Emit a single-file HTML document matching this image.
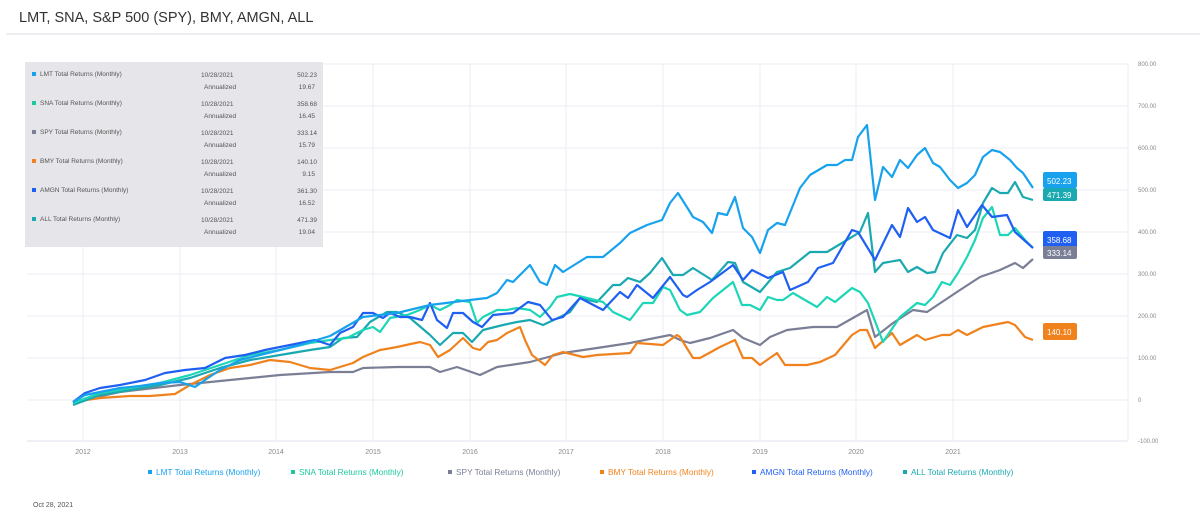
<!DOCTYPE html>
<html><head><meta charset="utf-8"><style>
body{margin:0;background:#fff;width:1200px;height:517px;overflow:hidden;font-family:"Liberation Sans",sans-serif}
</style></head><body>
<svg width="1200" height="517" xmlns="http://www.w3.org/2000/svg" font-family="Liberation Sans, sans-serif">
<text x="19" y="22" font-size="14.5" fill="#333">LMT, SNA, S&amp;P 500 (SPY), BMY, AMGN, ALL</text>
<line x1="6" y1="34" x2="1200" y2="34" stroke="#e8e9ee" stroke-width="1.5"/>
<g stroke="#eceef4" stroke-width="1">
<line x1="27" y1="64" x2="1128" y2="64"/><line x1="27" y1="106" x2="1128" y2="106"/><line x1="27" y1="148" x2="1128" y2="148"/><line x1="27" y1="190" x2="1128" y2="190"/><line x1="27" y1="232" x2="1128" y2="232"/><line x1="27" y1="274" x2="1128" y2="274"/><line x1="27" y1="316" x2="1128" y2="316"/><line x1="27" y1="358" x2="1128" y2="358"/><line x1="27" y1="400" x2="1128" y2="400"/><line x1="27" y1="441" x2="1128" y2="441" stroke="#dfe2ee"/>
<line x1="83" y1="64" x2="83" y2="441"/><line x1="180" y1="64" x2="180" y2="441"/><line x1="276" y1="64" x2="276" y2="441"/><line x1="373" y1="64" x2="373" y2="441"/><line x1="470" y1="64" x2="470" y2="441"/><line x1="566" y1="64" x2="566" y2="441"/><line x1="663" y1="64" x2="663" y2="441"/><line x1="760" y1="64" x2="760" y2="441"/><line x1="856" y1="64" x2="856" y2="441"/><line x1="953" y1="64" x2="953" y2="441"/><line x1="1128" y1="64" x2="1128" y2="441"/>
</g>
<g font-size="6" fill="#888">
<text x="1138" y="66">800.00</text><text x="1138" y="108">700.00</text><text x="1138" y="150">600.00</text><text x="1138" y="192">500.00</text><text x="1138" y="234">400.00</text><text x="1138" y="276">300.00</text><text x="1138" y="318">200.00</text><text x="1138" y="360">100.00</text><text x="1138" y="402">0</text><text x="1138" y="443">-100.00</text>
</g>
<g font-size="7" fill="#888" text-anchor="middle">
<text x="83" y="454">2012</text><text x="180" y="454">2013</text><text x="276" y="454">2014</text><text x="373" y="454">2015</text><text x="470" y="454">2016</text><text x="566" y="454">2017</text><text x="663" y="454">2018</text><text x="760" y="454">2019</text><text x="856" y="454">2020</text><text x="953" y="454">2021</text>
</g>
<g fill="none" stroke-width="2.2" stroke-linejoin="round">
<polyline stroke="#7a7f96" points="73,402 120,392 180,385 230,380 280,375 330,372 353,372 363,368 397,367 430,367 440,372 457,367 480,375 497,367 530,362 563,353 597,348 630,343 670,335 680,340 690,343 710,338 733,330 743,338 760,345 770,337 787,330 813,327 837,327 867,310 875,337 893,323 913,310 927,312 960,290 980,277 1000,270 1015,263 1023,268 1033,259"/>
<polyline stroke="#f0821e" points="73,402 100,398 130,396 150,396 175,394 190,385 210,375 230,368 250,365 270,360 290,362 310,368 330,370 353,363 363,357 380,350 397,347 420,342 430,345 438,357 450,350 463,338 473,348 480,350 488,342 497,340 507,333 520,327 525,340 532,355 545,365 553,355 563,352 583,357 597,355 630,353 637,343 663,345 677,335 680,337 693,358 700,358 720,347 735,340 743,358 752,358 760,365 777,353 785,365 807,365 820,362 835,355 852,335 860,330 867,330 875,348 892,333 900,345 917,335 925,340 942,335 950,335 958,330 967,335 983,327 1008,322 1015,325 1025,337 1033,340"/>
<polyline stroke="#1aa9b0" points="73,405 100,395 130,390 160,385 190,378 220,368 250,360 280,355 310,350 330,347 343,338 357,337 370,322 387,312 397,312 410,318 430,335 440,345 453,333 463,333 472,342 483,330 503,325 517,322 530,320 543,325 560,317 570,312 580,298 597,302 613,285 620,285 628,278 640,282 650,273 662,258 673,275 683,275 693,268 712,280 728,262 735,263 743,282 760,292 777,272 790,268 810,252 827,252 847,240 860,232 868,213 875,272 883,263 900,260 908,272 917,267 927,273 935,272 943,253 957,235 967,238 975,230 983,203 992,188 1000,193 1008,193 1015,182 1023,197 1033,200"/>
<polyline stroke="#1dd6b8" points="73,403 100,393 130,388 160,383 190,375 220,365 250,355 280,350 310,343 330,340 347,338 363,330 373,327 380,332 390,318 407,315 420,310 430,305 440,310 450,305 457,300 470,302 477,323 483,317 497,310 507,310 517,308 530,310 540,317 550,307 557,297 570,294 583,297 603,302 613,312 630,320 643,303 653,303 663,287 670,290 680,310 687,315 700,312 713,298 733,282 742,305 750,305 760,310 768,297 777,300 783,300 793,293 817,307 827,297 835,302 852,288 860,292 868,303 883,342 900,317 917,303 925,305 933,297 942,282 950,285 958,273 967,257 975,240 983,218 992,207 1000,235 1008,235 1015,228 1025,240 1033,248"/>
<polyline stroke="#1f5ff2" points="73,402 85,393 100,388 120,385 145,380 165,373 185,370 205,368 225,358 245,355 265,350 290,345 315,340 330,345 340,333 353,327 363,313 373,313 383,318 390,313 400,317 410,317 422,320 430,303 437,320 447,328 453,313 463,313 473,322 482,327 493,315 513,313 528,302 540,305 552,320 563,317 580,298 603,310 620,292 628,298 637,285 653,298 670,277 683,295 687,297 697,290 710,282 733,265 743,280 752,270 768,278 783,272 790,290 808,282 818,268 833,263 852,230 858,232 875,260 892,225 900,237 908,208 917,222 925,217 933,230 950,238 958,210 967,227 982,205 992,217 1007,215 1015,232 1033,248"/>
<polyline stroke="#18a2ee" points="73,402 85,395 100,392 120,388 140,386 160,383 180,382 195,387 205,380 220,370 240,360 260,355 280,350 300,345 330,336 363,317 397,313 430,305 470,300 487,298 497,293 507,280 513,282 530,265 540,282 547,285 555,265 563,272 587,257 603,257 620,243 630,233 647,225 662,220 670,203 678,193 690,212 693,217 703,222 712,233 718,213 727,215 735,197 743,228 752,237 760,253 768,230 777,223 785,225 800,188 810,175 827,165 837,165 845,160 852,160 858,137 867,125 875,200 883,167 892,177 900,160 908,168 917,155 925,148 933,163 940,167 950,180 958,188 967,183 975,175 983,157 992,150 1000,152 1010,160 1017,168 1023,173 1033,188"/>
</g>
<rect x="1043" y="172" width="34" height="16" rx="2" fill="#18a2ee"/><rect x="1043" y="188" width="34" height="13" rx="2" fill="#1aa9b0"/>
<text x="1047" y="184" font-size="8" fill="#fff">502.23</text><text x="1047" y="198" font-size="8" fill="#fff">471.39</text>
<rect x="1043" y="231" width="34" height="17" rx="2" fill="#1f5ff2"/><rect x="1043" y="246" width="34" height="13" rx="2" fill="#7a7f96"/>
<text x="1047" y="243" font-size="8" fill="#fff">358.68</text><text x="1047" y="256" font-size="8" fill="#fff">333.14</text>
<rect x="1043" y="323" width="34" height="17" rx="2" fill="#f0821e"/><text x="1047" y="335" font-size="8" fill="#fff">140.10</text>
<rect x="25" y="62" width="298" height="185" fill="#e6e6ea"/>
<g font-size="6.5" fill="#555">
<rect x="32" y="72" width="4" height="4" fill="#18a2ee"/><text x="40" y="76">LMT Total Returns (Monthly)</text><text x="201" y="77">10/28/2021</text><text x="204" y="89">Annualized</text><text x="317" y="77" text-anchor="end">502.23</text><text x="315" y="89" text-anchor="end">19.67</text>
<rect x="32" y="101" width="4" height="4" fill="#1dc8a0"/><text x="40" y="105">SNA Total Returns (Monthly)</text><text x="201" y="106">10/28/2021</text><text x="204" y="118">Annualized</text><text x="317" y="106" text-anchor="end">358.68</text><text x="315" y="118" text-anchor="end">16.45</text>
<rect x="32" y="130" width="4" height="4" fill="#7a7f96"/><text x="40" y="134">SPY Total Returns (Monthly)</text><text x="201" y="135">10/28/2021</text><text x="204" y="147">Annualized</text><text x="317" y="135" text-anchor="end">333.14</text><text x="315" y="147" text-anchor="end">15.79</text>
<rect x="32" y="159" width="4" height="4" fill="#f0821e"/><text x="40" y="163">BMY Total Returns (Monthly)</text><text x="201" y="164">10/28/2021</text><text x="204" y="176">Annualized</text><text x="317" y="164" text-anchor="end">140.10</text><text x="315" y="176" text-anchor="end">9.15</text>
<rect x="32" y="188" width="4" height="4" fill="#1f5ff2"/><text x="40" y="192">AMGN Total Returns (Monthly)</text><text x="201" y="193">10/28/2021</text><text x="204" y="205">Annualized</text><text x="317" y="193" text-anchor="end">361.30</text><text x="315" y="205" text-anchor="end">16.52</text>
<rect x="32" y="217" width="4" height="4" fill="#1aa9b0"/><text x="40" y="221">ALL Total Returns (Monthly)</text><text x="201" y="222">10/28/2021</text><text x="204" y="234">Annualized</text><text x="317" y="222" text-anchor="end">471.39</text><text x="315" y="234" text-anchor="end">19.04</text>
</g>
<g font-size="8.3">
<rect x="148" y="470" width="4" height="4" fill="#18a2ee"/><text x="156" y="475" fill="#18a2ee">LMT Total Returns (Monthly)</text>
<rect x="291" y="470" width="4" height="4" fill="#1dc8a0"/><text x="299" y="475" fill="#1dc8a0">SNA Total Returns (Monthly)</text>
<rect x="448" y="470" width="4" height="4" fill="#7a7f96"/><text x="456" y="475" fill="#7a7f96">SPY Total Returns (Monthly)</text>
<rect x="600" y="470" width="4" height="4" fill="#f0821e"/><text x="608" y="475" fill="#f0821e">BMY Total Returns (Monthly)</text>
<rect x="752" y="470" width="4" height="4" fill="#1f5ff2"/><text x="760" y="475" fill="#1f5ff2">AMGN Total Returns (Monthly)</text>
<rect x="903" y="470" width="4" height="4" fill="#1aa9b0"/><text x="911" y="475" fill="#1aa9b0">ALL Total Returns (Monthly)</text>
</g>
<text x="33" y="507" font-size="7" fill="#555">Oct 28, 2021</text>
</svg>
</body></html>
